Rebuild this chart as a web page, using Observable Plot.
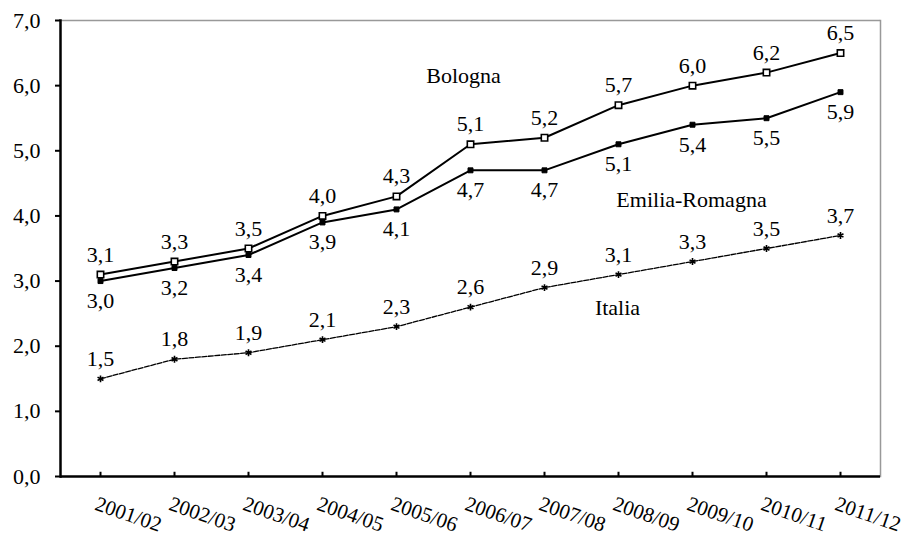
<!DOCTYPE html>
<html>
<head>
<meta charset="utf-8">
<script src="https://cdn.jsdelivr.net/npm/d3@7"></script>
<script src="https://cdn.jsdelivr.net/npm/@observablehq/plot@0.6"></script>
<style>
  html, body { margin: 0; padding: 0; background: white; }
  svg, svg text, svg g { font-family: "Liberation Serif", "Times New Roman", serif !important; }
</style>
</head>
<body>
<div id="chart"></div>
<script>
const years = ["2001/02","2002/03","2003/04","2004/05","2005/06","2006/07","2007/08","2008/09","2009/10","2010/11","2011/12"];
const bologna = [3.1, 3.3, 3.5, 4.0, 4.3, 5.1, 5.2, 5.7, 6.0, 6.2, 6.5];
const emilia  = [3.0, 3.2, 3.4, 3.9, 4.1, 4.7, 4.7, 5.1, 5.4, 5.5, 5.9];
const italia  = [1.5, 1.8, 1.9, 2.1, 2.3, 2.6, 2.9, 3.1, 3.3, 3.5, 3.7];
const yTicks = [0, 1, 2, 3, 4, 5, 6, 7];
// series name label anchors (category, value)
const nameLabels = [
  {name: "Bologna", x: "2006/07", y: 6.15},
  {name: "Emilia-Romagna", x: "2009/10", y: 4.24},
  {name: "Italia", x: "2008/09", y: 2.58}
];

const fmt = d => d.toFixed(1).replace(".", ",");
const rows = s => years.map((yr, i) => ({year: yr, value: s[i]}));
const B = rows(bologna), E = rows(emilia), I = rows(italia);

const chart = Plot.plot({
  width: 913,
  height: 535,
  marginLeft: 60,
  marginRight: 33,
  marginTop: 20,
  marginBottom: 59,
  style: {background: "white", color: "black", overflow: "visible"},
  x: {type: "point", domain: years, padding: 0.5, axis: null},
  y: {domain: [0, 7], axis: null},
  marks: [
    Plot.ruleY([7], {stroke: "#999", strokeWidth: 1.5}),
    Plot.frame({anchor: "right", stroke: "#999", strokeWidth: 1.5}),
    Plot.axisY(yTicks, {tickSize: 5, tickPadding: 15, tickFormat: fmt, strokeWidth: 2, fontSize: 22}),
    Plot.axisX(years, {tickSize: 0, tickPadding: 19, tickRotate: 19, textAnchor: "start", lineAnchor: "top", dx: -2, fontSize: 21}),
    Plot.ruleX(years, {x: d => d, y1: 0, y2: 0.065, strokeWidth: 2}),
    Plot.ruleY([0], {strokeWidth: 2.5}),
    Plot.frame({anchor: "left", strokeWidth: 2.5}),
    // lines
    Plot.line(I, {x: "year", y: "value", stroke: "black", strokeWidth: 1.3, strokeDasharray: "5,1.5"}),
    Plot.line(E, {x: "year", y: "value", stroke: "black", strokeWidth: 2}),
    Plot.line(B, {x: "year", y: "value", stroke: "black", strokeWidth: 2}),
    // markers
    Plot.dot(I, {x: "year", y: "value", symbol: "asterisk", r: 3.2, stroke: "black", strokeWidth: 1.6}),
    Plot.dot(E, {x: "year", y: "value", symbol: "square", r: 2.8, fill: "black", stroke: "black", strokeWidth: 1}),
    Plot.dot(B, {x: "year", y: "value", symbol: "square", r: 3.6, fill: "white", stroke: "black", strokeWidth: 1.6}),
    // value labels
    Plot.text(B, {x: "year", y: "value", text: d => fmt(d.value), dy: -20, fontSize: 22}),
    Plot.text(E, {x: "year", y: "value", text: d => fmt(d.value), dy: 20, fontSize: 22}),
    Plot.text(I, {x: "year", y: "value", text: d => fmt(d.value), dy: -20, fontSize: 22}),
    // series names
    Plot.text(nameLabels.slice(0, 1), {x: "x", y: "y", text: "name", dx: -7, fontSize: 22}),
    Plot.text(nameLabels.slice(1), {x: "x", y: "y", text: "name", dx: -1, fontSize: 22})
  ]
});
document.getElementById("chart").appendChild(chart);
</script>
</body>
</html>
